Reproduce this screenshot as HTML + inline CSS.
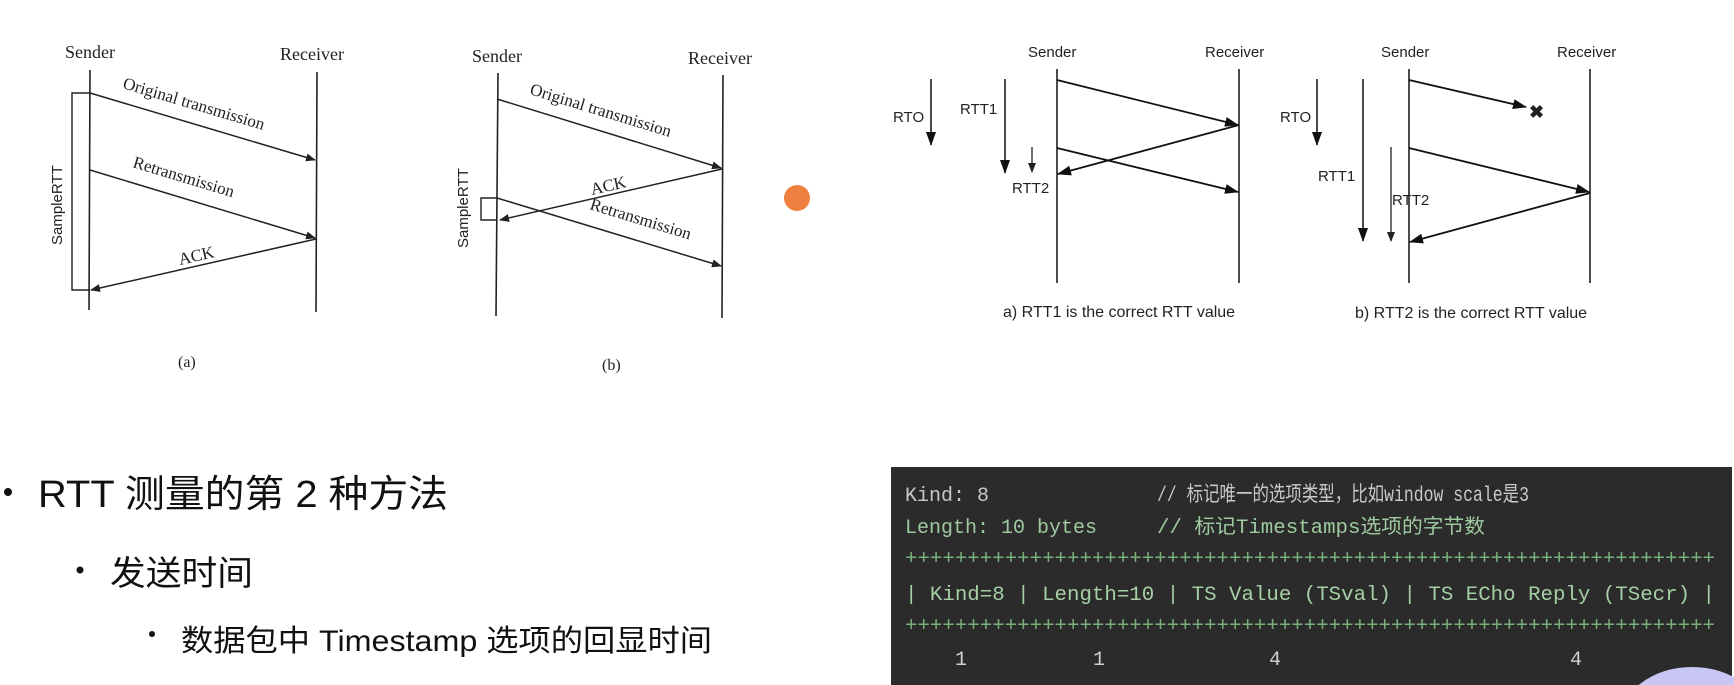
<!DOCTYPE html>
<html><head><meta charset="utf-8"><style>
html,body{margin:0;padding:0;background:#fff;width:1734px;height:685px;overflow:hidden;}
svg{display:block;}
text{white-space:pre;}
</style></head><body>
<svg width="1734" height="685" viewBox="0 0 1734 685" xmlns="http://www.w3.org/2000/svg" xml:space="preserve">
<defs>
<marker id="ah" markerWidth="10" markerHeight="8" refX="9" refY="4" orient="auto" markerUnits="userSpaceOnUse"><path d="M0,0 L10,4 L0,8 Z" fill="#222"/></marker>
<marker id="ab" markerWidth="14" markerHeight="10" refX="13" refY="5" orient="auto" markerUnits="userSpaceOnUse"><path d="M0,0 L14,5 L0,10 Z" fill="#111"/></marker>
<clipPath id="cl"><rect x="0" y="0" width="1734" height="685"/></clipPath>
</defs>
<rect width="1734" height="685" fill="#fff"/>

<g font-family="Liberation Serif, serif" fill="#222" stroke="#222">
<text x="65" y="58" font-size="18" stroke="none">Sender</text>
<text x="280" y="60" font-size="18" stroke="none">Receiver</text>
<line x1="90" y1="70" x2="89" y2="310" stroke-width="1.6"/>
<line x1="317" y1="72" x2="316" y2="312" stroke-width="1.6"/>
<line x1="90" y1="93" x2="315" y2="160" stroke-width="1.5" marker-end="url(#ah)"/>
<line x1="90" y1="170" x2="315" y2="238" stroke-width="1.5" marker-end="url(#ah)"/>
<line x1="316" y1="239" x2="91" y2="290" stroke-width="1.5" marker-end="url(#ah)"/>
<polyline points="90,93 72,93 72,290 90,290" fill="none" stroke-width="1.4"/>
<text transform="translate(62,245) rotate(-90)" font-family="Liberation Sans, sans-serif" font-size="15" stroke="none">SampleRTT</text>
<text transform="translate(122,88) rotate(16.6)" font-size="17" stroke="none">Original transmission</text>
<text transform="translate(132,167) rotate(16.8)" font-size="17" stroke="none">Retransmission</text>
<text transform="translate(180,265) rotate(-12.7)" font-size="17" stroke="none">ACK</text>
<text x="178" y="367" font-size="16" stroke="none">(a)</text>

<text x="472" y="62" font-size="18" stroke="none">Sender</text>
<text x="688" y="64" font-size="18" stroke="none">Receiver</text>
<line x1="498" y1="73" x2="496" y2="316" stroke-width="1.6"/>
<line x1="723" y1="75" x2="722" y2="318" stroke-width="1.6"/>
<line x1="497" y1="99" x2="721" y2="168" stroke-width="1.5" marker-end="url(#ah)"/>
<line x1="722" y1="169" x2="500" y2="220" stroke-width="1.5" marker-end="url(#ah)"/>
<line x1="497" y1="198" x2="721" y2="266" stroke-width="1.5" marker-end="url(#ah)"/>
<polyline points="497,198 481,198 481,220 497,220" fill="none" stroke-width="1.4"/>
<text transform="translate(468,248) rotate(-90)" font-family="Liberation Sans, sans-serif" font-size="15" stroke="none">SampleRTT</text>
<text transform="translate(529,94) rotate(17)" font-size="17" stroke="none">Original transmission</text>
<text transform="translate(589,209) rotate(17)" font-size="17" stroke="none">Retransmission</text>
<text transform="translate(592,195) rotate(-13)" font-size="17" stroke="none">ACK</text>
<text x="602" y="370" font-size="16" stroke="none">(b)</text>
</g>
<circle cx="797" cy="198" r="13" fill="#f08040"/>

<g font-family="Liberation Sans, sans-serif" fill="#222" stroke="#111">
<text x="1028" y="57" font-size="15" stroke="none">Sender</text>
<text x="1205" y="57" font-size="15" stroke="none">Receiver</text>
<line x1="1057" y1="69" x2="1057" y2="283" stroke-width="1.5"/>
<line x1="1239" y1="69" x2="1239" y2="283" stroke-width="1.5"/>
<line x1="1057" y1="80" x2="1238" y2="125" stroke-width="1.8" marker-end="url(#ab)"/>
<line x1="1239" y1="125" x2="1058" y2="174" stroke-width="1.8" marker-end="url(#ab)"/>
<line x1="1057" y1="148" x2="1238" y2="192" stroke-width="1.8" marker-end="url(#ab)"/>
<line x1="931" y1="79" x2="931" y2="145" stroke-width="1.5" marker-end="url(#ab)"/>
<line x1="1005" y1="79" x2="1005" y2="173" stroke-width="1.5" marker-end="url(#ab)"/>
<line x1="1032" y1="147" x2="1032" y2="172" stroke-width="1.2" marker-end="url(#ah)"/>
<text x="893" y="122" font-size="15" stroke="none">RTO</text>
<text x="960" y="114" font-size="15" stroke="none">RTT1</text>
<text x="1012" y="193" font-size="15" stroke="none">RTT2</text>
<text x="1003" y="317" font-size="16" stroke="none">a) RTT1 is the correct RTT value</text>

<text x="1381" y="57" font-size="15" stroke="none">Sender</text>
<text x="1557" y="57" font-size="15" stroke="none">Receiver</text>
<line x1="1409" y1="69" x2="1409" y2="283" stroke-width="1.5"/>
<line x1="1590" y1="69" x2="1590" y2="283" stroke-width="1.5"/>
<line x1="1409" y1="80" x2="1526" y2="107" stroke-width="1.8" marker-end="url(#ab)"/>
<text x="1529" y="118" font-size="18" font-weight="bold" stroke="none">✖</text>
<line x1="1409" y1="148" x2="1589" y2="192" stroke-width="1.8" marker-end="url(#ab)"/>
<line x1="1590" y1="193" x2="1410" y2="242" stroke-width="1.8" marker-end="url(#ab)"/>
<line x1="1317" y1="79" x2="1317" y2="145" stroke-width="1.5" marker-end="url(#ab)"/>
<line x1="1363" y1="79" x2="1363" y2="241" stroke-width="1.5" marker-end="url(#ab)"/>
<line x1="1391" y1="147" x2="1391" y2="241" stroke-width="1.2" marker-end="url(#ah)"/>
<text x="1280" y="122" font-size="15" stroke="none">RTO</text>
<text x="1318" y="181" font-size="15" stroke="none">RTT1</text>
<text x="1392" y="205" font-size="15" stroke="none">RTT2</text>
<text x="1355" y="318" font-size="16" stroke="none">b) RTT2 is the correct RTT value</text>
</g>

<g font-family="Liberation Sans, 'Noto Sans CJK SC', sans-serif" fill="#111">
<circle cx="8" cy="492" r="4"/>
<text x="38" y="507" font-size="38" textLength="410" lengthAdjust="spacingAndGlyphs">RTT 测量的第 2 种方法</text>
<circle cx="80" cy="570" r="3.5"/>
<text x="110" y="585" font-size="34" textLength="143" lengthAdjust="spacingAndGlyphs">发送时间</text>
<circle cx="152" cy="634" r="3"/>
<text x="181" y="651" font-size="30" textLength="531" lengthAdjust="spacingAndGlyphs">数据包中 Timestamp 选项的回显时间</text>
</g>

<rect x="891" y="467" width="841" height="218" fill="#2b2b2b"/>
<g font-family="Liberation Mono, 'Noto Sans CJK SC', monospace" font-size="20">
<text x="905" y="501" fill="#c8c8c8">Kind: 8</text>
<text x="1157" y="501" fill="#c8c8c8" font-size="21" textLength="372" lengthAdjust="spacingAndGlyphs">// 标记唯一的选项类型，比如window scale是3</text>
<text x="905" y="533" fill="#9fc99f">Length: 10 bytes</text>
<text x="1157" y="533" fill="#9fc99f" textLength="328" lengthAdjust="spacingAndGlyphs">// 标记Timestamps选项的字节数</text>
<text x="905" y="564" fill="#7ab07a" textLength="810" lengthAdjust="spacingAndGlyphs">+++++++++++++++++++++++++++++++++++++++++++++++++++++++++++++++++</text>
<text x="905" y="600" fill="#a6cfa6" textLength="810" lengthAdjust="spacingAndGlyphs">| Kind=8 | Length=10 | TS Value (TSval) | TS ECho Reply (TSecr) |</text>
<text x="905" y="631" fill="#7ab07a" textLength="810" lengthAdjust="spacingAndGlyphs">+++++++++++++++++++++++++++++++++++++++++++++++++++++++++++++++++</text>
<text x="955" y="665" fill="#d0d0d0">1</text>
<text x="1093" y="665" fill="#d0d0d0">1</text>
<text x="1269" y="665" fill="#d0d0d0">4</text>
<text x="1570" y="665" fill="#d0d0d0">4</text>
</g>
<g clip-path="url(#cl)"><ellipse cx="1692" cy="722" rx="72" ry="55" fill="#c8c6f2"/></g>
</svg>
</body></html>
